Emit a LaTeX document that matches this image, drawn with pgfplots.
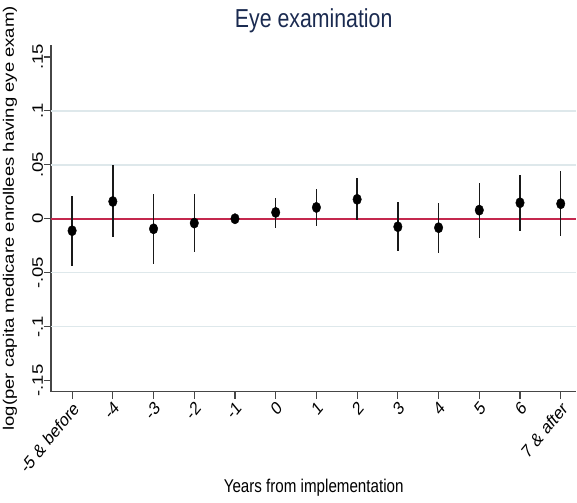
\documentclass[border=0pt]{standalone}
\usepackage{pgfplots}
\pgfplotsset{compat=1.18}
\usepackage{pgfplotstable}
\usepackage{fontspec}
\setmainfont{Liberation Sans}
\definecolor{titlec}{RGB}{26,42,80}
\definecolor{redc}{RGB}{196,40,78}
\definecolor{gridc}{RGB}{222,232,235}
\definecolor{axc}{RGB}{70,70,70}
\definecolor{barc}{RGB}{25,25,25}

\pgfplotstableread{
x   y        lo       hi
-5  -0.0111  -0.0440  0.0210
-4   0.0160  -0.0173  0.0500
-3  -0.0093  -0.0417  0.0230
-2  -0.0040  -0.0310  0.0230
-1   0.0000   0.0000  0.0000
0    0.0059  -0.0086  0.0190
1    0.0105  -0.0071  0.0275
2    0.0180  -0.0015  0.0377
3   -0.0074  -0.0302  0.0151
4   -0.0083  -0.0318  0.0145
5    0.0080  -0.0176  0.0333
6    0.0148  -0.0114  0.0410
7    0.0139  -0.0164  0.0444
}\est

\begin{document}
\begin{tikzpicture}
\begin{axis}[name=ax,
  width=526pt, height=347pt, scale only axis,
  xmin=-5.52, xmax=7.385, ymin=-0.1602, ymax=0.1611,
  axis x line*=bottom, axis y line*=left,
  axis line style={-, draw=axc, line width=1.2pt},
  xtick={-5,-4,-3,-2,-1,0,1,2,3,4,5,6,7},
  xticklabels={-5 \& before,-4,-3,-2,-1,0,1,2,3,4,5,6,7 \& after},
  ytick={-0.15,-0.1,-0.05,0,0.05,0.1,0.15},
  yticklabels={-.15,-.1,-.05,0,.05,.1,.15},
  scaled y ticks=false,
  tick align=outside, major tick length=7pt,
  tick style={draw=axc, line width=1.2pt},
  minor tick num=0,
  every tick label/.append style={font=\fontsize{18.5}{20}\selectfont, text=black},
  xticklabel style={xscale=0.82, rotate=45, anchor=north east, inner sep=1pt},
  yticklabel style={xscale=0.82, rotate=90, anchor=south, inner sep=1pt},
  title={Eye examination},
  title style={at={(0.5,1)}, anchor=base, yshift=11.4pt, font=\fontsize{26}{28}\selectfont, text=titlec, xscale=0.82, inner sep=0pt},
  xlabel={Years from implementation},
  every axis x label/.style={at={(0.5,0)}, anchor=base, yshift=-101pt, font=\fontsize{18.5}{20}\selectfont, xscale=0.82, inner sep=0pt},
  ylabel={log(per capita medicare enrollees having eye exam)},
  every axis y label/.style={at={(-0.078,0.5)}, anchor=center, xscale=0.82, rotate=90, font=\fontsize{18.5}{20}\selectfont, inner sep=0pt},
]
\addplot[gridc, line width=1.5pt, forget plot] coordinates {(-5.52,0.1) (7.385,0.1)};
\addplot[gridc, line width=1.5pt, forget plot] coordinates {(-5.52,0.05) (7.385,0.05)};
\addplot[gridc, line width=1.5pt, forget plot] coordinates {(-5.52,-0.05) (7.385,-0.05)};
\addplot[gridc, line width=1.5pt, forget plot] coordinates {(-5.52,-0.1) (7.385,-0.1)};
\addplot[redc, line width=1.6pt, forget plot] coordinates {(-5.52,0) (7.385,0)};
\addplot[only marks, mark=*, mark size=5.2pt, black,
  mark options={xscale=0.82, fill=black, draw=black},
  error bars/.cd, y dir=both, y explicit, error mark=none,
  error bar style={draw=barc, line width=1.5pt}]
  table[x=x, y=y, y error plus expr=\thisrow{hi}-\thisrow{y}, y error minus expr=\thisrow{y}-\thisrow{lo}] {\est};
\end{axis}
\path (ax.south west) ++(-51pt,-111pt) rectangle ++(577pt,503pt);
\end{tikzpicture}
\end{document}
